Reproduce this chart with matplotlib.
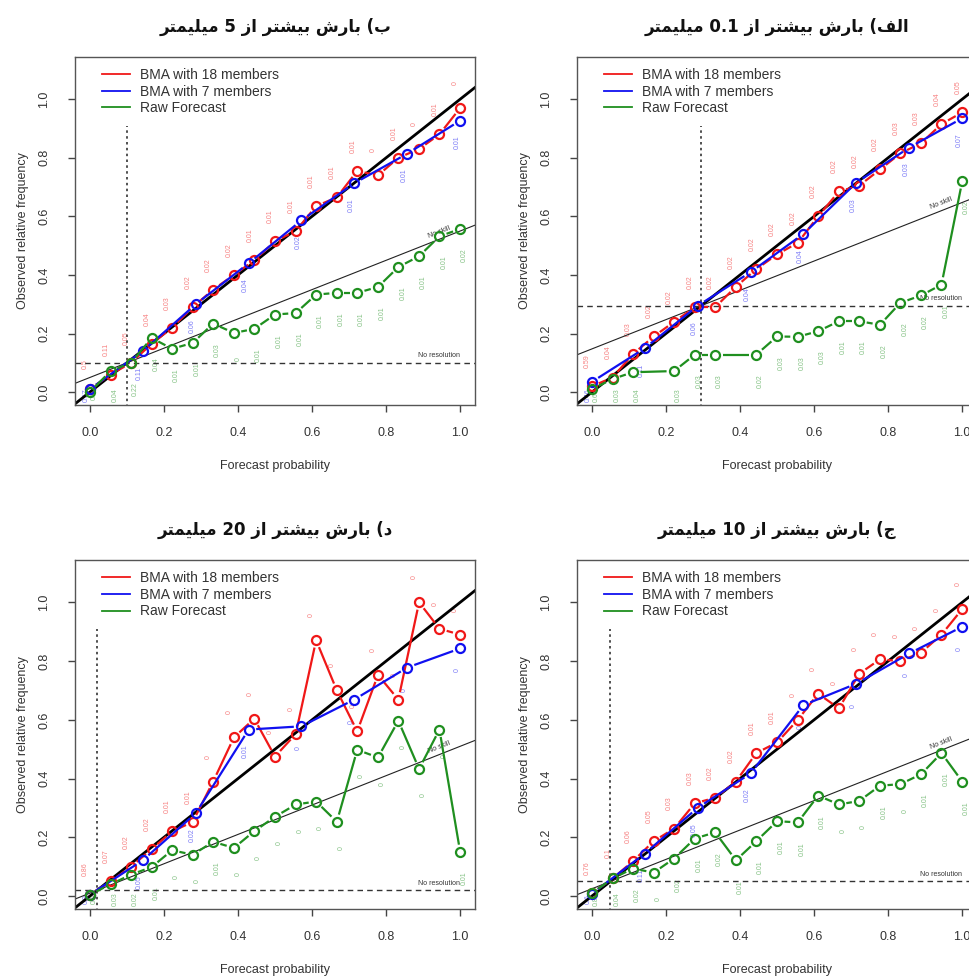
import numpy as np
import matplotlib
matplotlib.use('Agg')
import matplotlib.pyplot as plt

plt.rcParams['font.family'] = ['Liberation Sans', 'DejaVu Sans']

# forecast probability levels
x18 = [0.0, 0.056, 0.111, 0.167, 0.222, 0.278, 0.333, 0.389, 0.444, 0.5,
       0.556, 0.611, 0.667, 0.722, 0.778, 0.833, 0.889, 0.944, 1.0]
x7 = [0.0, 0.143, 0.286, 0.429, 0.571, 0.714, 0.857, 1.0]
nan = np.nan

# (a) > 0.1 mm
a_clim = 0.295
a_bma18 = [0.02, 0.05, 0.13, 0.19, 0.24, 0.29, 0.29, 0.36, 0.42, 0.47,
           0.51, 0.60, 0.685, 0.705, 0.76, 0.815, 0.85, 0.915, 0.955]
a_bma7 = [0.035, 0.15, 0.295, 0.41, 0.54, 0.715, 0.835, 0.935]
a_raw = [0.01, 0.045, 0.068, nan, 0.072, 0.128, 0.128, nan, 0.128, 0.19,
         0.189, 0.208, 0.242, 0.242, 0.23, 0.305, 0.33, 0.367, 0.72]
a_lab18 = ['0.59', '0.04', '0.03', '0.02', '0.02', '0.02', '0.02', '0.02', '0.02', '0.02',
           '0.02', '0.02', '0.02', '0.02', '0.02', '0.03', '0.03', '0.04', '0.05']
a_lab7 = ['0.46', '0.11', '0.06', '0.04', '0.04', '0.03', '0.03', '0.07']
a_labraw = ['0.65', '0.03', '0.04', '', '0.03', '0.03', '0.03', '', '0.02', '0.03',
            '0.03', '0.03', '0.01', '0.01', '0.02', '0.02', '0.02', '0.01', '0.02']

# (b) > 5 mm
b_clim = 0.1
b_bma18 = [0.01, 0.06, 0.10, 0.165, 0.22, 0.29, 0.35, 0.40, 0.45, 0.515,
           0.55, 0.635, 0.665, 0.755, 0.74, 0.80, 0.83, 0.88, 0.97]
b_bma7 = [0.01, 0.14, 0.30, 0.44, 0.586, 0.713, 0.814, 0.927]
b_raw = [0.0, 0.072, 0.10, 0.185, 0.148, 0.168, 0.234, 0.202, 0.216, 0.265,
         0.27, 0.333, 0.339, 0.339, 0.359, 0.427, 0.464, 0.532, 0.557]
b_lab18 = ['0.5', '0.11', '0.05', '0.04', '0.03', '0.02', '0.02', '0.02', '0.01', '0.01',
           '0.01', '0.01', '0.01', '0.01', '0', '0.01', '0', '0.01', '0']
b_lab7 = ['0.57', '0.11', '0.06', '0.04', '0.02', '0.01', '0.01', '0.01']
b_labraw = ['0.8', '0.04', '0.22', '0.04', '0.01', '0.01', '0.03', '0', '0.01', '0.01',
            '0.01', '0.01', '0.01', '0.01', '0.01', '0.01', '0.01', '0.01', '0.02']

# (c) > 10 mm
c_clim = 0.05
c_bma18 = [0.01, 0.06, 0.119, 0.187, 0.23, 0.316, 0.335, 0.39, 0.487, 0.523,
           0.60, 0.689, 0.639, 0.757, 0.806, 0.80, 0.829, 0.89, 0.977]
c_bma7 = [0.008, 0.145, 0.301, 0.418, 0.65, 0.723, 0.826, 0.917]
c_raw = [0.01, 0.06, 0.094, 0.08, 0.128, 0.196, 0.217, 0.122, 0.187, 0.255,
         0.251, 0.342, 0.312, 0.324, 0.376, 0.381, 0.415, 0.487, 0.39]
c_lab18 = ['0.76', '0.1', '0.06', '0.05', '0.03', '0.03', '0.02', '0.02', '0.01', '0.01',
           '0', '0', '0', '0', '0', '0', '0', '0', '0']
c_lab7 = ['0.6', '0.11', '0.05', '0.02', '0', '0', '0', '0']
c_labraw = ['0.88', '0.04', '0.02', '0', '0.02', '0.01', '0.02', '0.01', '0.01', '0.01',
            '0.01', '0.01', '0', '0', '0.01', '0', '0.01', '0.01', '0.01']

# (d) > 20 mm
d_clim = 0.02
d_bma18 = [0.005, 0.05, 0.10, 0.16, 0.22, 0.253, 0.39, 0.54, 0.604, 0.475,
           0.552, 0.871, 0.70, 0.561, 0.753, 0.669, 1.0, 0.91, 0.89]
d_bma7 = [0.005, 0.122, 0.282, 0.567, 0.578, 0.669, 0.778, 0.843]
d_raw = [0.005, 0.04, 0.073, 0.099, 0.156, 0.141, 0.185, 0.164, 0.221, 0.27,
         0.312, 0.322, 0.253, 0.498, 0.472, 0.597, 0.433, 0.567, 0.15]
d_lab18 = ['0.86', '0.07', '0.02', '0.02', '0.01', '0.01', '0', '0', '0', '0',
           '0', '0', '0', '0', '0', '0', '0', '0', '0']
d_lab7 = ['0.9', '0.05', '0.02', '0.01', '0', '0', '0', '0']
d_labraw = ['0.9', '0.03', '0.02', '0.01', '0', '0', '0.01', '0', '0', '0',
            '0', '0', '0', '0', '0', '0', '0', '0', '0.01']

# Persian titles, written in contextual (presentation) forms in display order
MILIMETR = '\ufeae\ufe98\ufee4\ufef4\ufee0\ufef4\ufee3'
AZ = '\ufeaf\ufe8d'
BISHTAR = '\ufeae\ufe98\ufeb8\ufef4\ufe91'
BARESH = '\ufeb5\ufead\ufe8e\ufe91'
ALEF = '\ufed2\ufedf\ufe8d'
BE = '\ufe8f'
JIM = '\ufe9d'
DAL = '\ufea9'


def title_text(amount, letter):
    return MILIMETR + ' ' + amount + ' ' + AZ + ' ' + BISHTAR + ' ' + BARESH + ' (' + letter


RED = '#f01818'
BLUE = '#1010f0'
GREEN = '#1f8f1f'
LEGEND = ['BMA with 18 members', 'BMA with 7 members', 'Raw Forecast']
GAP = 7.5  # pixels left empty around each point, like R type="b"

panels = [
    dict(pos=[0.5955, 0.585, 0.4128, 0.3566], title=title_text('0.1', ALEF),
         clim=a_clim, r=a_bma18, b=a_bma7, g=a_raw, lr=a_lab18, lb=a_lab7, lg=a_labraw),
    dict(pos=[0.0774, 0.585, 0.4128, 0.3566], title=title_text('5', BE),
         clim=b_clim, r=b_bma18, b=b_bma7, g=b_raw, lr=b_lab18, lb=b_lab7, lg=b_labraw),
    dict(pos=[0.5955, 0.0686, 0.4128, 0.3576], title=title_text('10', JIM),
         clim=c_clim, r=c_bma18, b=c_bma7, g=c_raw, lr=c_lab18, lb=c_lab7, lg=c_labraw),
    dict(pos=[0.0774, 0.0686, 0.4128, 0.3576], title=title_text('20', DAL),
         clim=d_clim, r=d_bma18, b=d_bma7, g=d_raw, lr=d_lab18, lb=d_lab7, lg=d_labraw),
]

fig = plt.figure(figsize=(9.69, 9.76), dpi=100)


def broken_line(ax, xs, ys, col):
    # segments between points, cut short near each point
    pts = ax.transData.transform(np.column_stack([xs, ys]))
    inv = ax.transData.inverted()
    for p1, p2 in zip(pts[:-1], pts[1:]):
        d = p2 - p1
        L = np.hypot(*d)
        if L <= 2 * GAP + 1:
            continue
        u = d / L
        seg = inv.transform(np.array([p1 + u * GAP, p2 - u * GAP]))
        ax.plot(seg[:, 0], seg[:, 1], color=col, lw=1.6, solid_capstyle='butt', zorder=3)
    ax.plot(xs, ys, ls='none', marker='o', ms=6.5, mfc='none', mec=col, mew=1.6, zorder=3)


for p in panels:
    ax = fig.add_axes(p['pos'])
    ax.set_xlim(-0.04, 1.04)
    ax.set_ylim(-0.044, 1.144)
    clim = p['clim']

    # reference lines
    ax.axline((0, 0), slope=1, color='black', lw=2, zorder=2)
    ax.axline((clim, clim), slope=0.5, color='#222222', lw=0.8, zorder=2)
    ax.axhline(clim, color='#333333', lw=1, ls=(0, (4, 3)), zorder=2)
    ax.plot([clim, clim], [-0.05, 0.91], color='#333333', lw=1.2, ls=(0, (1.5, 2)), zorder=2)
    ax.text(1.0, clim + 0.012, 'No resolution', fontsize=5, color='#333333', ha='right', va='bottom')
    ax.text(0.975, (0.975 + clim) / 2 + 0.012, 'No skill', fontsize=5, color='#333333',
            ha='right', va='bottom', rotation=21.6, rotation_mode='anchor')

    series = [(x18, p['r'], p['lr'], RED, 0.085, -0.012),
              (x7, p['b'], p['lb'], BLUE, -0.075, -0.009),
              (x18, p['g'], p['lg'], GREEN, -0.09, 0.012)]
    for xs, ys, labs, col, dy, dx in series:
        xs = np.array(xs)
        ys = np.array(ys, dtype=float)
        ok = ~np.isnan(ys)
        broken_line(ax, xs[ok], ys[ok], col)
        for xv, yv, s in zip(xs[ok], ys[ok], np.array(labs)[ok]):
            ax.text(xv + dx, max(yv + dy, -0.01), s, fontsize=5, color=col, alpha=0.55,
                    rotation=90, ha='center', va='center', zorder=1, clip_on=True)

    handles = [plt.Line2D([], [], color=c, lw=1.3) for c in (RED, BLUE, GREEN)]
    leg = ax.legend(handles, LEGEND, loc='upper left', bbox_to_anchor=(0.054, 0.985),
                    frameon=False, fontsize=10, handlelength=2.0, handletextpad=0.7,
                    labelspacing=0.2, borderaxespad=0)
    for t in leg.get_texts():
        t.set_color('#333333')

    ax.set_xticks([0, 0.2, 0.4, 0.6, 0.8, 1.0])
    ax.set_xticklabels(['0.0', '0.2', '0.4', '0.6', '0.8', '1.0'])
    ax.set_yticks([0, 0.2, 0.4, 0.6, 0.8, 1.0])
    ax.set_yticklabels(['0.0', '0.2', '0.4', '0.6', '0.8', '1.0'])
    ax.tick_params(axis='x', length=5, width=1, color='#444444', pad=11, labelsize=9,
                   labelcolor='#333333')
    ax.tick_params(axis='y', length=5, width=1, color='#444444', pad=13, labelsize=9,
                   labelcolor='#333333', labelrotation=90)
    for lbl in ax.get_yticklabels():
        lbl.set_va('center')
    for s in ax.spines.values():
        s.set_color('#555555')
        s.set_linewidth(1)

    ax.set_xlabel('Forecast probability', fontsize=9, color='#333333')
    ax.xaxis.set_label_coords(0.5, -0.175)
    ax.xaxis.label.set_va('center')
    ax.set_ylabel('Observed relative frequency', fontsize=9, color='#333333')
    ax.yaxis.set_label_coords(-0.13, 0.5)
    ax.yaxis.label.set_va('center')

    x0, y0, w, h = p['pos']
    fig.text(x0 + w / 2, y0 + h + 0.031, p['title'], family=['DejaVu Sans'],
             fontsize=12, fontweight='bold', ha='center', va='center', color='#111111')

fig.savefig('out.png', dpi=100)
